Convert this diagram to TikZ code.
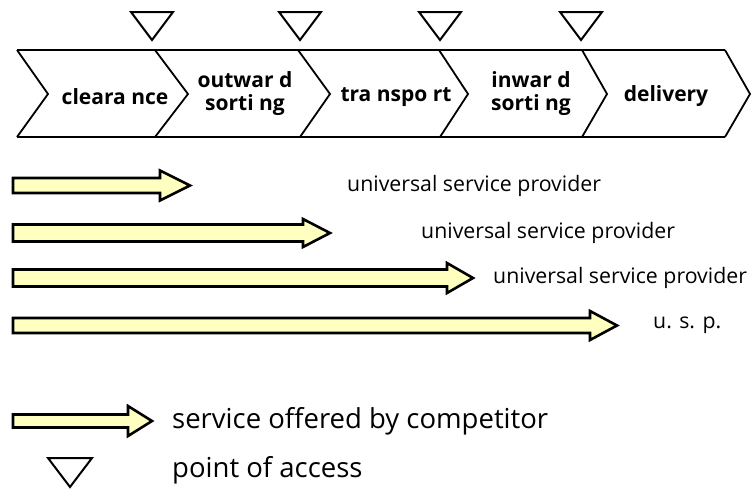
\documentclass[tikz,border=0pt]{standalone}
\usepackage{fontspec}
\setmainfont{Open Sans}
\definecolor{svcfill}{RGB}{255,255,192}
\newcommand\svcarrow[5]{\draw[svc] (13,{#1-#2}) -- (#4,{#1-#2}) -- (#4,{#1-#3}) -- (#5,#1) -- (#4,{#1+#3}) -- (#4,{#1+#2}) -- (13,{#1+#2}) -- cycle;}
\newcommand\accesstri[3]{\draw[acc] ({#1-21},#2) -- ({#1+21},#2) -- (#1,#3) -- cycle;}
\begin{document}
\begin{tikzpicture}[x=1pt,y=-1pt,
  chev/.style={line width=1.8pt,line join=miter},
  svc/.style={draw=black,line width=2.6pt,fill=svcfill,line join=miter},
  acc/.style={draw=black,line width=2pt,line join=miter},
  stage/.style={font=\bfseries\fontsize{21}{23}\selectfont,align=center,inner sep=0pt},
  lab/.style={font=\fontsize{21.3}{24}\selectfont,anchor=west,inner sep=0pt},
  leg/.style={font=\fontsize{27.5}{30}\selectfont,anchor=west,inner sep=0pt}]
\useasboundingbox (0,0) rectangle (751,488);
% chevron row
\draw[chev] (17,50) -- (725,50);
\draw[chev] (17,137) -- (725,137);
\draw[chev] (17,50) -- (48,94) -- (17,137);
\draw[chev] (155,50) -- (188,94) -- (155,137);
\draw[chev] (298,50) -- (330,94) -- (300,137);
\draw[chev] (439,50) -- (468,94) -- (440,137);
\draw[chev] (582,50) -- (607,94) -- (582,137);
\draw[chev] (725,50) -- (750,94) -- (725,137);
\node[stage] (clear) at (115,97) {cleara nce};
\node[stage] (outs) at (245,94) {outwar d\\sorti ng};
\node[stage] (trans) at (396,97) {tra nspo rt};
\node[stage] (ins) at (531,94) {inwar d\\sorti ng};
\node[stage] (deliv) at (666,96) {delivery};
% points of access
\accesstri{152}{12}{40}
\accesstri{300}{12}{40}
\accesstri{440}{12}{40}
\accesstri{581}{12}{40}
% competitor services
\svcarrow{185.5}{7.5}{15}{160}{190}
\svcarrow{233}{8.5}{14}{303}{330}
\svcarrow{278}{8.5}{15}{447}{473}
\svcarrow{325.5}{7.5}{14.5}{590}{617}
\node[lab] (usp1) at (347,186) {universal service provider};
\node[lab] (usp2) at (421,233) {universal service provider};
\node[lab] (usp3) at (493,278) {universal service provider};
\node[lab] (usp4) at (653,325) {u. s. p.};
% legend
\svcarrow{421}{6.5}{15}{128}{152}
\node[leg] (legsvc) at (172,421) {service offered by competitor};
\draw[acc] (48,458) -- (92,458) -- (70,487) -- cycle;
\node[leg] (legacc) at (172,470) {point of access};
\end{tikzpicture}
\end{document}
